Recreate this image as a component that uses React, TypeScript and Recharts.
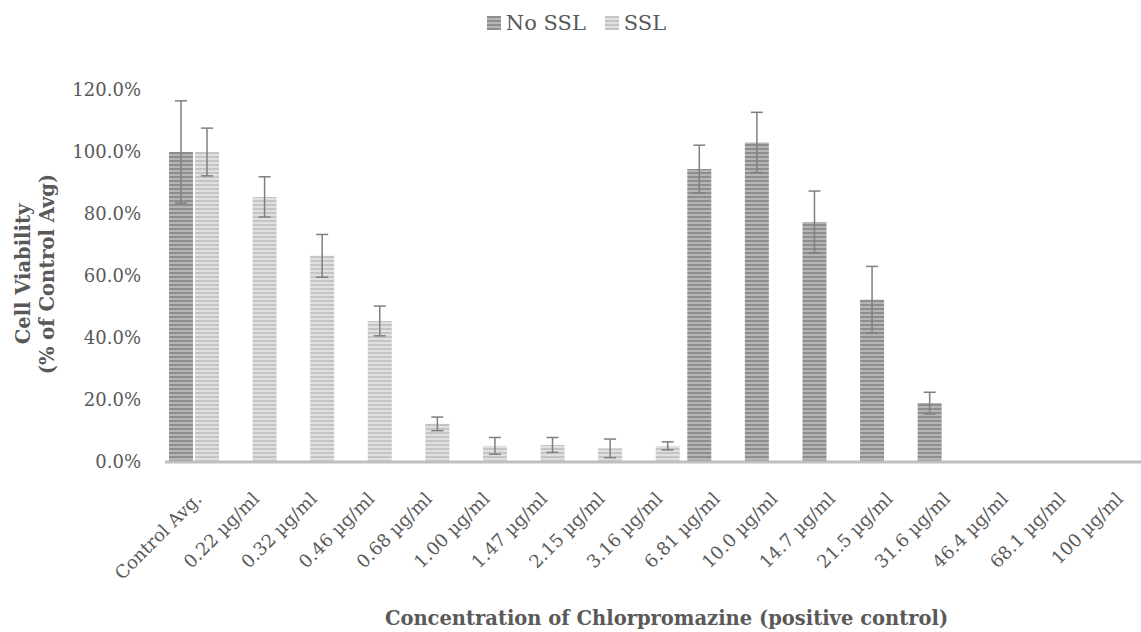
import { Bar, BarChart, ErrorBar, Label, XAxis, YAxis } from 'recharts'

const categories = [
  'Control Avg.',
  '0.22 µg/ml',
  '0.32 µg/ml',
  '0.46 µg/ml',
  '0.68 µg/ml',
  '1.00 µg/ml',
  '1.47 µg/ml',
  '2.15 µg/ml',
  '3.16 µg/ml',
  '6.81 µg/ml',
  '10.0 µg/ml',
  '14.7 µg/ml',
  '21.5 µg/ml',
  '31.6 µg/ml',
  '46.4 µg/ml',
  '68.1 µg/ml',
  '100 µg/ml',
]

const noSsl = [100, null, null, null, null, null, null, null, null, 94.5, 103.1, 77.4, 52.3, 19.0, 0, -0.3, -0.3]
const noSslErr = [16.5, null, null, null, null, null, null, null, null, 7.7, 9.7, 10.0, 10.8, 3.5, null, null, null]
const ssl = [100, 85.5, 66.5, 45.5, 12.3, 5.2, 5.5, 4.4, 5.2, null, null, null, null, null, null, null, null]
const sslErr = [7.7, 6.5, 6.9, 4.8, 2.2, 2.7, 2.4, 3.0, 1.3, null, null, null, null, null, null, null, null]

const yTicks = [0, 20, 40, 60, 80, 100, 120]

const seriesNames = ['No SSL', 'SSL']

const FONT = '"DejaVu Serif", "Liberation Serif", serif'
const TEXT = '#595959'

const data = categories.map((name, i) => ({
  name,
  noSsl: noSsl[i],
  noSslErr: noSslErr[i],
  ssl: ssl[i],
  sslErr: sslErr[i],
}))

// stripe look for the legend squares (bars use svg patterns)
const darkStripes = 'repeating-linear-gradient(180deg, #8e8e8e 0px, #8e8e8e 2px, #b5b5b5 2px, #b5b5b5 4px)'
const lightStripes = 'repeating-linear-gradient(180deg, #c4c4c4 0px, #c4c4c4 2px, #e0e0e0 2px, #e0e0e0 4px)'

function XTick({ x, y, payload }: { x?: number; y?: number; payload?: { value: string } }) {
  return (
    <g transform={`translate(${(x ?? 0) + 9},${(y ?? 0) + 30})`}>
      <text
        x={0}
        y={0}
        textAnchor="end"
        transform="rotate(-45)"
        fill={TEXT}
        fontSize={18}
        fontFamily={FONT}
      >
        {payload?.value}
      </text>
    </g>
  )
}

function YTitle({ viewBox }: { viewBox?: { x: number; y: number; width: number; height: number } }) {
  const cy = viewBox ? viewBox.y + viewBox.height / 2 - 2 : 274
  return (
    <g fill={TEXT} fontSize={19.5} fontWeight="bold" fontFamily={FONT}>
      <text transform={`translate(30,${cy}) rotate(-90)`} textAnchor="middle">
        Cell Viability
      </text>
      <text transform={`translate(54,${cy}) rotate(-90)`} textAnchor="middle">
        (% of Control Avg)
      </text>
    </g>
  )
}

function XTitle({ viewBox }: { viewBox?: { x: number; y: number; width: number; height: number } }) {
  const cx = viewBox ? viewBox.x + viewBox.width / 2 + 12 : 666
  return (
    <text
      x={cx}
      y={625}
      textAnchor="middle"
      fill={TEXT}
      fontSize={19.5}
      fontWeight="bold"
      fontFamily={FONT}
    >
      Concentration of Chlorpromazine (positive control)
    </text>
  )
}

export default function App() {
  return (
    <div
      style={{
        position: 'absolute',
        left: 0,
        top: 0,
        width: 1141,
        height: 632,
        background: '#fff',
        fontFamily: FONT,
      }}
    >
      <div
        style={{
          position: 'absolute',
          top: 10,
          left: 6,
          width: 1141,
          display: 'flex',
          justifyContent: 'center',
          gap: 19,
          fontSize: 21,
          lineHeight: '26px',
          color: TEXT,
        }}
      >
        {seriesNames.map((n, i) => (
          <div key={n} style={{ display: 'flex', alignItems: 'center', gap: 5 }}>
            <span
              style={{
                width: 14,
                height: 14,
                display: 'inline-block',
                background: i === 0 ? darkStripes : lightStripes,
              }}
            />
            <span>{n}</span>
          </div>
        ))}
      </div>
      <BarChart
        width={1141}
        height={632}
        data={data}
        margin={{ top: 90, right: -3, left: 0, bottom: 0 }}
        barSize={24}
        barGap={2}
        style={{ position: 'absolute', left: 0, top: 0 }}
      >
        <defs>
          <pattern id="stripeDark" width="4" height="4" patternUnits="userSpaceOnUse">
            <rect x="0" y="0" width="4" height="4" fill="#b5b5b5" />
            <rect x="0" y="0" width="4" height="2" fill="#8e8e8e" />
          </pattern>
          <pattern id="stripeLight" width="4" height="4" patternUnits="userSpaceOnUse">
            <rect x="0" y="0" width="4" height="4" fill="#e0e0e0" />
            <rect x="0" y="0" width="4" height="2" fill="#c4c4c4" />
          </pattern>
        </defs>
        <XAxis
          dataKey="name"
          height={170}
          interval={0}
          tickLine={false}
          axisLine={{ stroke: '#bfbfbf', strokeWidth: 3 }}
          tick={<XTick />}
        >
          <Label content={<XTitle />} />
        </XAxis>
        <YAxis
          width={165}
          domain={[0, 120]}
          ticks={yTicks}
          allowDataOverflow
          axisLine={false}
          tickLine={false}
          tickSize={0}
          tickMargin={24}
          tickFormatter={(v: number) => `${v.toFixed(1)}%`}
          tick={{ fill: TEXT, fontSize: 18, fontFamily: FONT }}
        >
          <Label content={<YTitle />} />
        </YAxis>
        <Bar dataKey="noSsl" name={seriesNames[0]} fill="url(#stripeDark)" isAnimationActive={false}>
          <ErrorBar dataKey="noSslErr" width={6} stroke="#7f7f7f" strokeWidth={1.5} />
        </Bar>
        <Bar dataKey="ssl" name={seriesNames[1]} fill="url(#stripeLight)" isAnimationActive={false}>
          <ErrorBar dataKey="sslErr" width={6} stroke="#7f7f7f" strokeWidth={1.5} />
        </Bar>
      </BarChart>
    </div>
  )
}
